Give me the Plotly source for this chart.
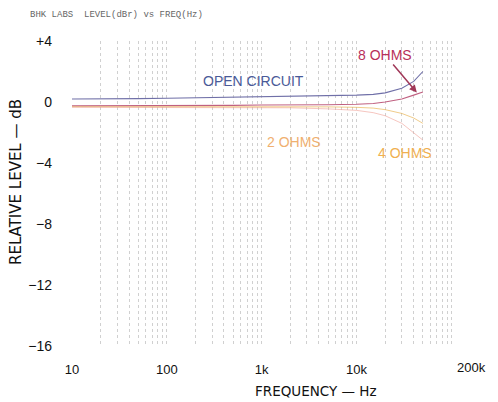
import plotly.graph_objects as go

# ---- data ----
freq_hz = [10, 20, 50, 100, 200, 500, 1000, 2000, 5000, 10000, 15000, 20000, 30000, 40000, 50000]
open_circuit_db = [0.2, 0.2, 0.22, 0.25, 0.28, 0.3, 0.32, 0.35, 0.4, 0.45, 0.5, 0.6, 0.9, 1.35, 2.0]
eight_ohm_db = [-0.25, -0.25, -0.25, -0.24, -0.23, -0.22, -0.2, -0.2, -0.18, -0.15, -0.1, 0.0, 0.2, 0.45, 0.65]
four_ohm_db = [-0.3, -0.3, -0.3, -0.3, -0.3, -0.3, -0.3, -0.3, -0.32, -0.35, -0.4, -0.5, -0.75, -1.05, -1.4]
two_ohm_db = [-0.35, -0.35, -0.35, -0.35, -0.35, -0.35, -0.36, -0.38, -0.45, -0.55, -0.7, -0.9, -1.4, -2.0, -2.5]

x_label_vals = [10, 100, 1000, 10000]
x_label_text = ["10", "100", "1k", "10k"]
x_end_label = "200k"
y_tick_vals = [4, 0, -4, -8, -12, -16]
y_tick_text = ["+4", "0", "\u22124", "\u22128", "\u221212", "\u221216"]

# grid positions: 1..9 multiples in each decade
grid_vals = []
for dec in [10, 100, 1000, 10000, 100000]:
    for m in range(1, 10):
        v = dec * m
        if v <= 200000:
            grid_vals.append(v)
grid_text = [x_label_text[x_label_vals.index(v)] if v in x_label_vals else "" for v in grid_vals]

FONT = "Liberation Sans, Arial, sans-serif"
WIDE = "DejaVu Sans, Verdana, sans-serif"

fig = go.Figure()
fig.add_trace(go.Scatter(x=freq_hz, y=two_ohm_db, mode="lines",
                         line=dict(color="rgba(240,160,150,0.6)", width=1), name="2 OHMS"))
fig.add_trace(go.Scatter(x=freq_hz, y=four_ohm_db, mode="lines",
                         line=dict(color="rgba(230,170,60,0.6)", width=1), name="4 OHMS"))
fig.add_trace(go.Scatter(x=freq_hz, y=eight_ohm_db, mode="lines",
                         line=dict(color="#c06080", width=1.1), name="8 OHMS"))
fig.add_trace(go.Scatter(x=freq_hz, y=open_circuit_db, mode="lines",
                         line=dict(color="#7070a8", width=1.1), name="OPEN CIRCUIT"))

fig.add_annotation(x=2.918, y=1.38, xref="x", yref="y", text="OPEN CIRCUIT", showarrow=False,
                   font=dict(family=FONT, size=14, color="#4a5a98"))
fig.add_annotation(x=4.635, y=0.62, xref="x", yref="y", ax=4.372, ay=2.56, axref="x", ayref="y",
                   text="", showarrow=True, arrowhead=2, arrowsize=1, arrowwidth=1.5,
                   arrowcolor="#a03858")
fig.add_annotation(x=4.30, y=3.08, xref="x", yref="y", text="8 OHMS", showarrow=False,
                   font=dict(family=FONT, size=14, color="#b8305a"))
fig.add_annotation(x=3.34, y=-2.62, xref="x", yref="y", text="2 OHMS", showarrow=False,
                   font=dict(family=FONT, size=14, color="#f0b070"))
fig.add_annotation(x=4.51, y=-3.34, xref="x", yref="y", text="4 OHMS", showarrow=False,
                   font=dict(family=FONT, size=14, color="#f0b050"))

# The page body has an 8px margin, so the figure is drawn 8px in from the window corner.
OFF = 8
W, H = 498 - OFF, 402 - OFF
l, r, t, b = 72 - OFF, 18, 41 - OFF, 56
pw, ph = W - l - r, H - t - b
def px(xp, yp):
    # window pixel -> paper coords
    return (xp - OFF - l) / pw, 1 - (yp - OFF - t) / ph

# end-of-axis label (printed slightly inboard of the 200k position in the original)
fig.add_annotation(x=5.30103, y=0, xref="x", yref="paper", text=x_end_label, showarrow=False,
                   xanchor="center", yanchor="middle", xshift=-9, yshift=-21,
                   font=dict(family=FONT, size=13, color="#111"))

tx, ty = px(28, 15)
fig.add_annotation(x=tx, y=ty, xref="paper", yref="paper", text="BHK LABS  LEVEL(dBr) vs FREQ(Hz)",
                   showarrow=False, xanchor="left", yanchor="middle",
                   font=dict(family="Liberation Mono, DejaVu Sans Mono, monospace", size=9, color="#666"))
fx, fy = px(316, 391)
fig.add_annotation(x=fx, y=fy, xref="paper", yref="paper", text="FREQUENCY \u2014 Hz", showarrow=False,
                   xanchor="center", yanchor="middle",
                   font=dict(family=WIDE, size=13.5, color="#111"))
yx, yy = px(16, 182)
fig.add_annotation(x=yx, y=yy, xref="paper", yref="paper", text="RELATIVE LEVEL \u2014 dB", showarrow=False,
                   textangle=-90, xanchor="center", yanchor="middle",
                   font=dict(family=WIDE, size=15, color="#111"))

fig.update_layout(
    width=W, height=H,
    margin=dict(l=l, r=r, t=t, b=b),
    paper_bgcolor="white", plot_bgcolor="white",
    showlegend=False,
    xaxis=dict(type="log", range=[1, 5.30103], tickvals=grid_vals, ticktext=grid_text,
               showgrid=True, gridcolor="rgba(150,150,150,0.45)", gridwidth=1, griddash="dot",
               zeroline=False, showline=False, ticks="", ticklabelstandoff=14, automargin=False,
               tickfont=dict(family=FONT, size=13, color="#111")),
    yaxis=dict(range=[-16, 4], tickvals=y_tick_vals, ticktext=y_tick_text,
               showgrid=False, zeroline=False, showline=False, ticks="", ticklabelstandoff=19,
               automargin=False,
               tickfont=dict(family=FONT, size=14, color="#111")),
)

fig.write_html("out.html")
